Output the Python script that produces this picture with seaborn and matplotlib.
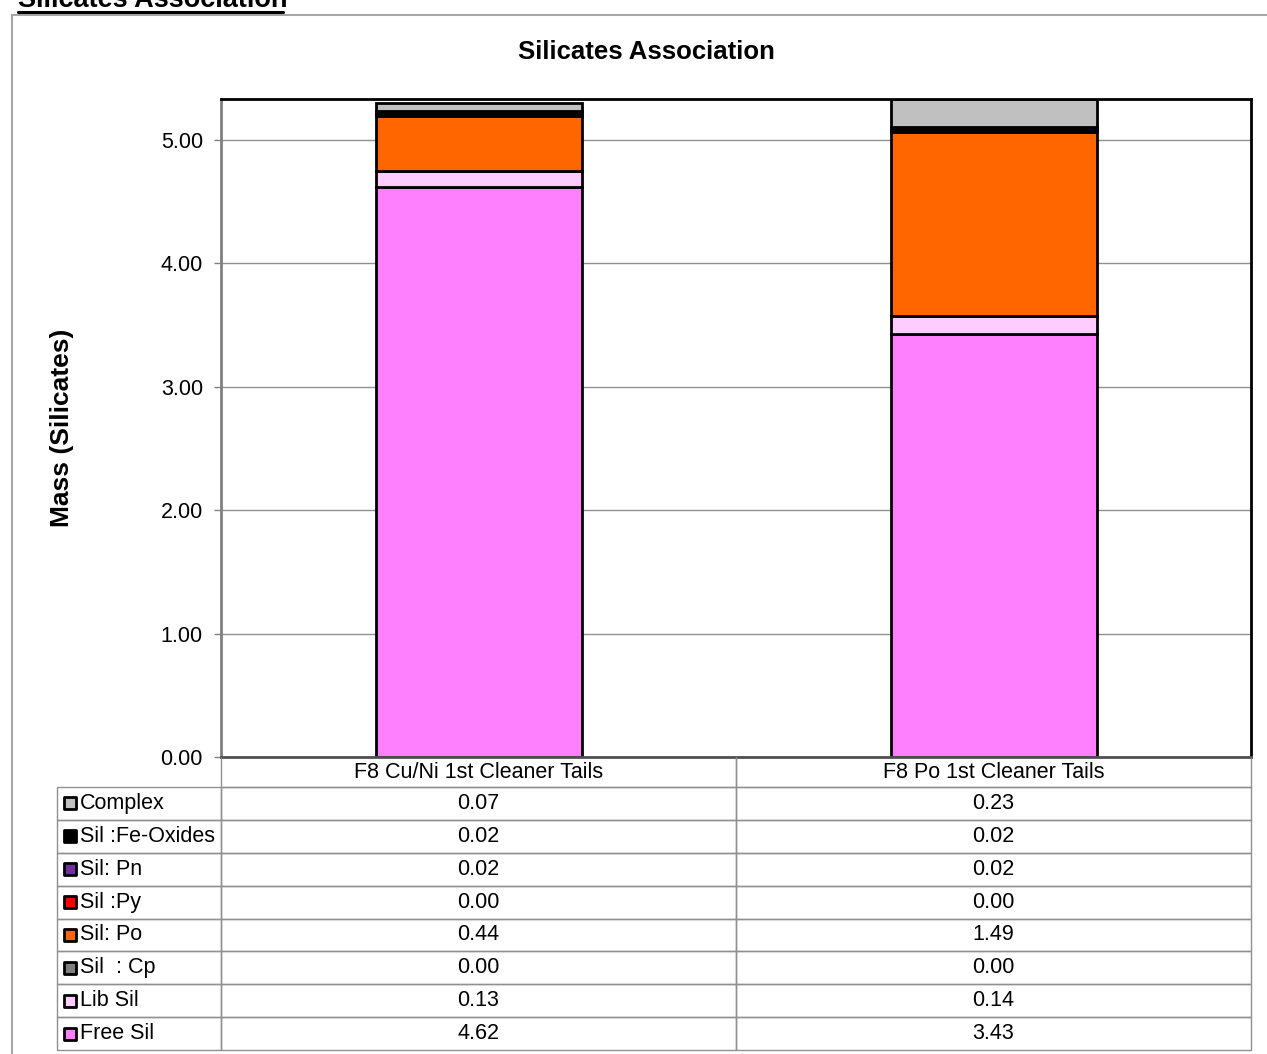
import matplotlib
matplotlib.use("Agg")
import matplotlib.pyplot as plt
import seaborn as sns
from matplotlib.lines import Line2D
from matplotlib.patches import Rectangle

samples = ["F8 Cu/Ni 1st Cleaner Tails", "F8 Po 1st Cleaner Tails"]
# stacking order, bottom to top
series = ["Free Sil", "Lib Sil", "Sil  : Cp", "Sil: Po", "Sil :Py", "Sil: Pn", "Sil :Fe-Oxides", "Complex"]
free_sil = [4.62, 3.43]
lib_sil = [0.13, 0.14]
sil_cp = [0.00, 0.00]
sil_po = [0.44, 1.49]
sil_py = [0.00, 0.00]
sil_pn = [0.02, 0.02]
sil_fe = [0.02, 0.02]
complex_ = [0.07, 0.23]
colors = ["#FF80FF", "#FFCCFF", "#808080", "#FF6600", "#FF0000", "#7030A0", "#000000", "#C0C0C0"]
yticks = [0, 1, 2, 3, 4, 5]

values = [free_sil, lib_sil, sil_cp, sil_po, sil_py, sil_pn, sil_fe, complex_]

sns.set_style("white")
plt.rcParams["font.family"] = ["Liberation Sans", "DejaVu Sans"]
plt.rcParams["text.color"] = "black"
plt.rcParams["axes.labelcolor"] = "black"
plt.rcParams["ytick.color"] = "black"
plt.rcParams["xtick.color"] = "black"

W, H = 1267, 1054
fig = plt.figure(figsize=(W / 100, H / 100), dpi=100)

# outer chart frame and the heading above it
fig.add_artist(Rectangle((12 / W, -0.1), 1.2, 1 - 15 / H + 0.1, transform=fig.transFigure,
                         fill=False, edgecolor="#A6A6A6", linewidth=1.5))
fig.text(18 / W, 1 - 7 / H, "Silicates Association", fontsize=19.5, fontweight="bold",
         ha="left", va="baseline")
fig.add_artist(Line2D([18 / W, 283 / W], [1 - 12 / H, 1 - 12 / H], transform=fig.transFigure,
                      color="black", linewidth=2.2))
fig.text(646 / W, 1 - 52 / H, "Silicates Association", fontsize=18.5, fontweight="bold",
         ha="center", va="center")

ax = fig.add_axes([221 / W, 1 - 757 / H, 1030 / W, (757 - 99) / H])

bottom = [0.0, 0.0]
for name, vals, col in zip(series, values, colors):
    sns.barplot(x=samples, y=vals, bottom=bottom, color=col, saturation=1, width=0.4,
                edgecolor="black", linewidth=2, errorbar=None, ax=ax)
    bottom = [b + v for b, v in zip(bottom, vals)]

ax.set_xlim(-0.5, 1.5)
ax.set_ylim(0, 5.33)
ax.set_yticks(yticks)
ax.set_yticklabels([f"{t:.2f}" for t in yticks], fontsize=15.5)
ax.set_xticks([])
ax.set_xlabel("")
ax.set_ylabel("Mass (Silicates)", fontsize=19, fontweight="bold")
ax.yaxis.set_label_coords(-0.143, 0.5)
ax.set_axisbelow(True)
ax.yaxis.grid(True, color="#909090", linewidth=1)
ax.tick_params(axis="y", left=True, length=5, width=1, color="#808080", labelcolor="black", pad=8)
for side in ["top", "right"]:
    ax.spines[side].set_color("black")
    ax.spines[side].set_linewidth(2)
ax.spines["left"].set_color("#808080")
ax.spines["left"].set_linewidth(2)
ax.spines["bottom"].set_color("#505050")
ax.spines["bottom"].set_linewidth(2)

# data table below the plot
tax = fig.add_axes([57 / W, 1 - 1050 / H, (1251 - 57) / W, (1050 - 757) / H])
tax.axis("off")
rows = list(reversed(series))
row_vals = list(reversed(values))
row_cols = list(reversed(colors))
cell_text = [[""] + samples]
for name, vals in zip(rows, row_vals):
    cell_text.append([name] + [f"{v:.2f}" for v in vals])

col_w = [164 / 1194, 515 / 1194, 515 / 1194]
tbl = tax.table(cellText=cell_text, colWidths=col_w, cellLoc="center", bbox=[0, 0, 1, 1])
tbl.auto_set_font_size(False)
tbl.set_fontsize(15.5)
h_head = 30 / 293
h_row = (1 - h_head) / 8
for (r, c), cell in tbl.get_celld().items():
    cell.set_edgecolor("#909090")
    cell.set_facecolor("none")
    cell.set_linewidth(1)
    cell.set_height(h_head if r == 0 else h_row)
    cell.get_text().set_color("black")
    if c == 0 and r > 0:
        cell.get_text().set_horizontalalignment("left")
        cell.PAD = 0.14
    if r == 0 and c == 0:
        cell.visible_edges = ""
    if r == 0 and c > 0:
        cell.visible_edges = "BLR"

# legend keys in the row label cells
for i, col in enumerate(row_cols):
    yc = 1 - h_head - h_row * (i + 0.5)
    tax.scatter([(70 - 57) / 1194], [yc], marker="s", s=75, color=col,
                edgecolor="black", linewidth=2, zorder=5, clip_on=False)
tax.set_xlim(0, 1)
tax.set_ylim(0, 1)

fig.savefig("out.png", dpi=100)
